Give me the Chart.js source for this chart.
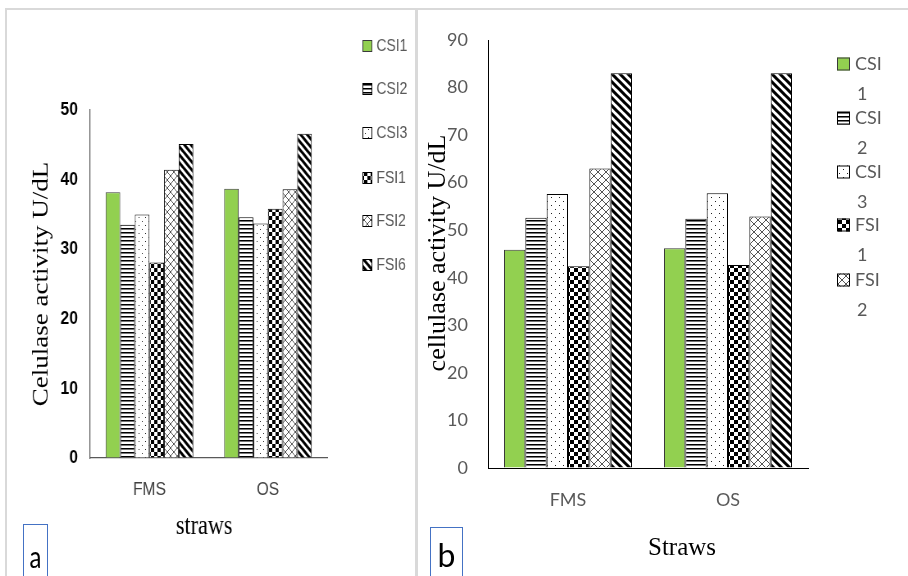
<!DOCTYPE html>
<html><head><meta charset="utf-8">
<script src="https://cdn.jsdelivr.net/npm/chart.js@4.4.1/dist/chart.umd.min.js"></script>
<style>
html,body{margin:0;padding:0;background:#fff;}
#wrap{position:relative;width:908px;height:576px;overflow:hidden;background:#fff;}
#ca{position:absolute;left:0;top:0;transform-origin:0 0;transform:scaleX(0.82);}
#cb{position:absolute;left:418px;top:0;}
.line{position:absolute;background:#d9d9d9;}
.tag{position:absolute;border:1.5px solid #4472c4;box-sizing:border-box;font-family:Lato,sans-serif;color:#000;text-align:center;}
</style></head>
<body><div id="wrap">
<canvas id="ca" width="507" height="576"></canvas>
<canvas id="cb" width="490" height="576"></canvas>
<div class="line" style="left:5px;top:8px;width:903px;height:2px"></div>
<div class="line" style="left:5px;top:8px;width:2px;height:570px"></div>
<div class="line" style="left:415px;top:8px;width:3px;height:570px"></div>
<div class="tag" style="left:23px;top:524px;width:25px;height:70px;font-size:30px;line-height:30px;padding-top:16px"><span style="display:inline-block;transform:scaleX(0.8)">a</span></div>
<div class="tag" style="left:430px;top:527px;width:33px;height:70px;font-size:32px;line-height:32px;padding-top:11px">b</div>
</div>
<script>
// ---- data ----
const categories = ['FMS', 'OS'];
const seriesNamesA = ['CSI1', 'CSI2', 'CSI3', 'FSI1', 'FSI2', 'FSI6'];
const csi1A = [38.2, 38.7];
const csi2A = [33.5, 34.6];
const csi3A = [35.0, 33.7];
const fsi1A = [28.1, 35.8];
const fsi2A = [41.4, 38.6];
const fsi6A = [45.1, 46.6];
const seriesNamesB = ['CSI 1', 'CSI 2', 'CSI 3', 'FSI 1', 'FSI 2', 'FSI 6'];
const csi1B = [45.9, 46.2];
const csi2B = [52.6, 52.4];
const csi3B = [57.6, 57.8];
const fsi1B = [42.4, 42.7];
const fsi2B = [63.0, 52.9];
const fsi6B = [83.0, 83.0];
const yRangeA = [0, 50, 10];
const yRangeB = [0, 90, 10];
const legendShownB = 5;

// ---- patterns ----
function pattern(type) {
  const c = document.createElement('canvas');
  const s = type === 'h' ? 4 : 8;
  c.width = s; c.height = s;
  const g = c.getContext('2d');
  g.fillStyle = '#fff'; g.fillRect(0, 0, s, s);
  if (type === 'h') {
    g.fillStyle = '#000'; g.fillRect(0, 0, s, 1);
    g.fillStyle = '#777'; g.fillRect(0, 1, s, 1);
  } else if (type === 'dot') {
    g.fillStyle = '#222'; g.fillRect(1, 1, 1, 1); g.fillRect(5, 5, 1, 1);
  } else if (type === 'check') {
    g.fillStyle = '#000'; g.fillRect(0, 0, 4, 4); g.fillRect(4, 4, 4, 4);
  } else if (type === 'diam') {
    g.strokeStyle = '#555'; g.lineWidth = 1;
    g.beginPath();
    for (const o of [-8, 0, 8]) {
      g.moveTo(o, 0); g.lineTo(o + 8, 8);
      g.moveTo(o + 8, 0); g.lineTo(o, 8);
    }
    g.stroke();
  } else if (type === 'wdiag') {
    g.strokeStyle = '#000'; g.lineWidth = 3;
    g.beginPath();
    for (const o of [-8, 0, 8]) { g.moveTo(o - 1, -1); g.lineTo(o + 9, 9); }
    g.stroke();
  }
  return g.createPattern(c, 'repeat');
}
const fills = ['#92D050', pattern('h'), pattern('dot'), pattern('check'), pattern('diam'), pattern('wdiag')];
const borders = ['#3a3a3a', '#000', '#000', '#000', '#000', '#000'];

function makeSets(names, arrays) {
  return arrays.map((d, i) => ({
    label: names[i], data: d, backgroundColor: fills[i],
    borderColor: borders[i], borderWidth: 1, barPercentage: 1.0
  }));
}

// ---- extras plugin: titles, legend ----
const extras = {
  id: 'extras',
  afterDraw(chart, args, o) {
    const ctx = chart.ctx;
    ctx.save();
    // legend
    const L = o.legend;
    const ds = chart.data.datasets.slice(0, L.count);
    ds.forEach((d, i) => {
      const y = L.rows[i];
      ctx.fillStyle = d.backgroundColor;
      ctx.fillRect(L.mx, y - L.mh / 2, L.mw, L.mh);
      ctx.strokeStyle = d.borderColor; ctx.lineWidth = 1;
      ctx.strokeRect(L.mx + 0.5, y - L.mh / 2 + 0.5, L.mw - 1, L.mh - 1);
      ctx.fillStyle = L.color; ctx.font = L.font;
      ctx.textAlign = 'left'; ctx.textBaseline = 'middle';
      if (L.wrap) {
        const parts = d.label.split(' ');
        ctx.fillText(parts[0], L.tx, y);
        ctx.fillText(parts[1], L.tx2, y + L.lineGap);
      } else {
        ctx.fillText(d.label, L.tx, y);
      }
    });
    // y title
    ctx.fillStyle = '#000';
    ctx.font = o.yTitle.font;
    ctx.textAlign = 'center'; ctx.textBaseline = 'middle';
    ctx.save();
    ctx.translate(o.yTitle.x, o.yTitle.y);
    ctx.rotate(-Math.PI / 2);
    ctx.fillText(o.yTitle.text, 0, 0);
    ctx.restore();
    // x title
    ctx.font = o.xTitle.font;
    ctx.fillText(o.xTitle.text, o.xTitle.x, o.xTitle.y);
    ctx.restore();
  }
};

function axisOpts(extra) {
  return Object.assign({
    grid: { display: true, drawOnChartArea: false, drawTicks: false },
    border: { display: true, color: '#595959', width: 1.2 }
  }, extra);
}

// ---- chart a ----
new Chart(document.getElementById('ca'), {
  type: 'bar',
  data: { labels: categories, datasets: makeSets(seriesNamesA, [csi1A, csi2A, csi3A, fsi1A, fsi2A, fsi6A]) },
  plugins: [extras],
  options: {
    responsive: false, animation: false,
    datasets: { bar: { categoryPercentage: 0.74 } },
    layout: { padding: { left: 0, top: 110, right: 108, bottom: 0 } },
    plugins: {
      legend: { display: false }, tooltip: { enabled: false },
      extras: {
        legend: { count: 6, rows: [46, 89, 133, 178, 221, 265], mx: 442, mw: 12, mh: 12, tx: 459,
                  font: '17px "Liberation Sans", Arial, sans-serif', color: '#595959', wrap: false },
        yTitle: { text: 'Celulase activity U/dL', x: 51, y: 284, font: '27px "Liberation Serif", "Times New Roman", serif' },
        xTitle: { text: 'straws', x: 249, y: 527, font: '27px "Liberation Serif", "Times New Roman", serif' }
      }
    },
    scales: {
      x: axisOpts({
        ticks: { font: { family: '"Liberation Sans", Arial, sans-serif', size: 19 }, color: '#404040', padding: 20 },
        afterFit(s) { s.height = 118; }
      }),
      y: axisOpts({
        min: yRangeA[0], max: yRangeA[1],
        ticks: { stepSize: yRangeA[2], font: { family: '"Liberation Sans", Arial, sans-serif', size: 19, weight: 'bold' }, color: '#000', padding: 15 },
        afterFit(s) { s.width = 110; }
      })
    }
  }
});

// ---- chart b ----
new Chart(document.getElementById('cb'), {
  type: 'bar',
  data: { labels: categories, datasets: makeSets(seriesNamesB, [csi1B, csi2B, csi3B, fsi1B, fsi2B, fsi6B]) },
  plugins: [extras],
  options: {
    responsive: false, animation: false,
    datasets: { bar: { categoryPercentage: 0.8 } },
    layout: { padding: { left: 0, top: 40, right: 100, bottom: 0 } },
    plugins: {
      legend: { display: false }, tooltip: { enabled: false },
      extras: {
        legend: { count: legendShownB, rows: [64, 118, 172, 225, 280], mx: 419, mw: 13, mh: 13, tx: 437, tx2: 439, lineGap: 30,
                  font: '18px Lato, "Open Sans", sans-serif', color: '#595959', wrap: true },
        yTitle: { text: 'cellulase activity U/dL', x: 20, y: 253, font: '26px "Liberation Serif", "Times New Roman", serif' },
        xTitle: { text: 'Straws', x: 264, y: 548, font: '25px "Liberation Serif", "Times New Roman", serif' }
      }
    },
    scales: {
      x: axisOpts({
        border: { display: true, color: '#000', width: 1 },
        ticks: { font: { family: 'Lato, "Open Sans", sans-serif', size: 18 }, color: '#595959', padding: 21 },
        afterFit(s) { s.height = 108; }
      }),
      y: axisOpts({
        min: yRangeB[0], max: yRangeB[1],
        border: { display: true, color: '#000', width: 1 },
        ticks: { stepSize: yRangeB[2], font: { family: 'Lato, "Open Sans", sans-serif', size: 18 }, color: '#595959', padding: 20 },
        afterFit(s) { s.width = 70; }
      })
    }
  }
});
</script>
</body></html>
